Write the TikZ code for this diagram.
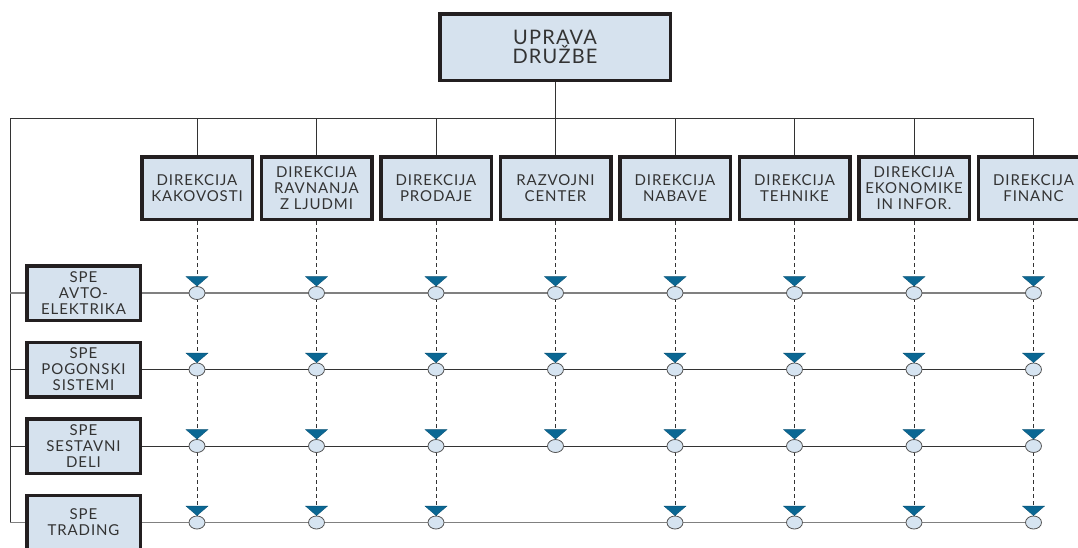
\documentclass[tikz,border=0pt]{standalone}
\usepackage{fontspec}
\setmainfont[LetterSpace=6]{Lato}
\usetikzlibrary{shapes.geometric,calc}
\definecolor{boxfill}{HTML}{D6E2EE}
\definecolor{boxline}{HTML}{231F20}
\definecolor{txt}{HTML}{333333}
\definecolor{tri}{HTML}{0B6793}
\definecolor{mkfill}{HTML}{D6E4F1}
\definecolor{mkline}{HTML}{555555}
\definecolor{ln}{HTML}{333333}
\begin{document}
\begin{tikzpicture}[x=1pt,y=-1pt,
  box/.style={draw=boxline, line width=3.5pt, fill=boxfill, align=center, inner sep=0pt, text=txt, font=\fontsize{15}{16}\selectfont},
  dirbox/.style={box, minimum width=110.5pt, minimum height=62.5pt},
  spebox/.style={box, minimum width=113.5pt, minimum height=54.5pt},
  topbox/.style={box, minimum width=230.5pt, minimum height=66.5pt, font=\fontsize{20}{19.5}\selectfont},
  conn/.style={draw=ln, line width=0.9pt},
  rowline/.style={draw=ln, line width=0.9pt},
  rowlinegray/.style={draw=black!50, line width=1.4pt},
  dashline/.style={draw=ln, line width=0.9pt, dash pattern=on 4pt off 3pt},
  mk/.style={ellipse, draw=mkline, fill=mkfill, minimum width=16pt, minimum height=13pt, inner sep=0pt, line width=0.8pt},
  trimark/.style={fill=tri, draw=tri!80!black, line width=0.3pt}]
\useasboundingbox (0,0) rectangle (1078,547);
% top box
\node[topbox] (top) at (555,47) {UPRAVA\\DRUŽBE};
% direction boxes
\foreach \c/\t in {1/{DIREKCIJA\\KAKOVOSTI},2/{DIREKCIJA\\RAVNANJA\\Z LJUDMI},3/{DIREKCIJA\\PRODAJE},4/{RAZVOJNI\\CENTER},5/{DIREKCIJA\\NABAVE},6/{DIREKCIJA\\TEHNIKE},7/{DIREKCIJA\\EKONOMIKE\\IN INFOR.},8/{DIREKCIJA\\FINANC}}{
  \pgfmathsetmacro\cx{197+119.5*(\c-1)}
  \node[dirbox] (d\c) at (\cx,188) {\t};
}
% SPE boxes
\foreach \r/\t in {1/{SPE\\AVTO-\\ELEKTRIKA},2/{SPE\\POGONSKI\\SISTEMI},3/{SPE\\SESTAVNI\\DELI},4/{SPE\\TRADING}}{
  \pgfmathsetmacro\ry{293+76.5*(\r-1)}
  \node[spebox] (s\r) at (83.5,\ry) {\t};
}
% marker positions
\foreach \c in {1,...,8}{
  \pgfmathsetmacro\cx{197+119.5*(\c-1)}
  \foreach \r in {1,2,3}{
    \pgfmathsetmacro\ry{293+76.5*(\r-1)}
    \coordinate (m\r-\c) at (\cx,\ry);
  }
}
\foreach \c in {1,2,3,5,6,7,8}{
  \pgfmathsetmacro\cx{197+119.5*(\c-1)}
  \coordinate (m4-\c) at (\cx,522.5);
}
% top connectors
\coordinate (L) at (10,118);
\coordinate (R) at (1033.5,118);
\draw[conn] (top.south) -- (top.south |- L);
\draw[conn] (L) -- (R);
\draw[conn] (L) -- (L |- s4.west);
\foreach \c in {1,...,8}{
  \draw[conn] (d\c.north) -- (d\c.north |- L);
}
% dashed lines
\foreach \c in {1,2,3,5,6,7,8}{
  \draw[dashline] (d\c.south) -- (m4-\c);
}
\draw[dashline] (d4.south) -- (m3-4);
% row lines
\foreach \r/\st in {1/rowlinegray,2/rowline,3/rowline,4/rowlinegray}{
  \draw[\st] (L |- s\r.west) -- (s\r.west);
  \draw[\st] (s\r.east) -- (m\r-8);
}
% marker shapes
\foreach \c in {1,...,8}{
  \foreach \r in {1,2,3}{
    \node[mk] (e\r-\c) at (m\r-\c) {};
    \filldraw[trimark] ($(e\r-\c.north)+(-11,-9.5)$) -- ++(22,0) -- (e\r-\c.north) -- cycle;
  }
}
\foreach \c in {1,2,3,5,6,7,8}{
  \node[mk] (e4-\c) at (m4-\c) {};
  \filldraw[trimark] ($(e4-\c.north)+(-11,-9.5)$) -- ++(22,0) -- (e4-\c.north) -- cycle;
}
\end{tikzpicture}
\end{document}
